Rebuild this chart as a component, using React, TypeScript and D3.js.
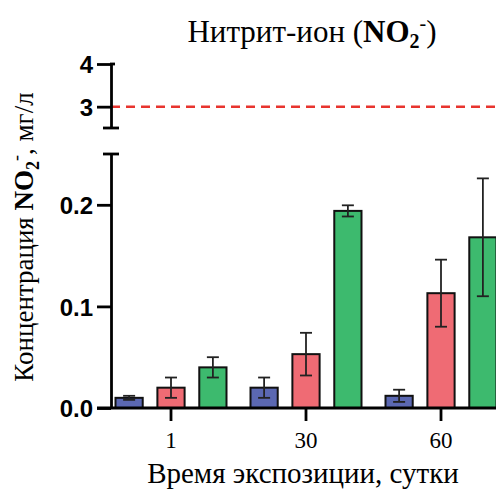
import React, { useEffect, useRef } from 'react'
import * as d3 from 'd3'

// data
const days = ['1', '30', '60']
const series = ['blue', 'red', 'green']
const means = [
  [0.01, 0.02, 0.04],
  [0.02, 0.053, 0.194],
  [0.012, 0.113, 0.168],
]
const errors = [
  [0.002, 0.01, 0.01],
  [0.01, 0.021, 0.0055],
  [0.006, 0.033, 0.058],
]
const lowTicks = [0, 0.1, 0.2]
const highTicks = [3, 4]
const limitValue = 3
const colors = ['#5b68b2', '#ef6b74', '#3dba6e']

const App = () => {
  const svgRef = useRef(null)

  useEffect(() => {
    const width = 496
    const height = 494
    const axisX = 111
    const serif = '"Liberation Serif", "Times New Roman", serif'
    const sans = '"Liberation Sans", Arial, sans-serif'

    const svg = d3.select(svgRef.current).attr('width', width).attr('height', height)
    svg.selectAll('*').remove()

    // two y segments (broken axis)
    const yLow = d3.scaleLinear().domain([0, 0.25]).range([408, 154])
    const yHigh = d3.scaleLinear().domain([2.5, 4]).range([128, 64])

    const x = d3.scaleBand().domain(days).range([103.5, 508.5]).padding(0)
    const inner = d3.scaleBand().domain(series).range([-55.5, 55.5]).paddingInner(0.35).paddingOuter(0)

    // title
    const title = svg
      .append('text')
      .attr('x', 312)
      .attr('y', 42)
      .attr('text-anchor', 'middle')
      .style('font-family', serif)
      .style('font-size', '31px')
    title.append('tspan').text('Нитрит-ион (')
    title.append('tspan').style('font-weight', 'bold').text('NO')
    title.append('tspan').style('font-weight', 'bold').style('font-size', '20px').attr('dy', 6).text('2')
    title.append('tspan').style('font-size', '20px').attr('dy', -18).text('-')
    title.append('tspan').attr('dy', 12).text(')')

    // red dashed limit line
    svg
      .append('line')
      .attr('x1', axisX)
      .attr('x2', width)
      .attr('y1', yHigh(limitValue))
      .attr('y2', yHigh(limitValue))
      .attr('stroke', '#e8342e')
      .attr('stroke-width', 2.5)
      .attr('stroke-dasharray', '9,6')

    // bars
    const groups = svg
      .selectAll('g.day')
      .data(days)
      .enter()
      .append('g')
      .attr('transform', (d) => `translate(${x(d) + x.bandwidth() / 2},0)`)

    groups.each(function (day, i) {
      const g = d3.select(this)
      series.forEach((s, j) => {
        const v = means[i][j]
        const e = errors[i][j]
        const bx = inner(s)
        const bw = inner.bandwidth()
        const cx = bx + bw / 2
        g.append('rect')
          .attr('x', bx)
          .attr('y', yLow(v))
          .attr('width', bw)
          .attr('height', yLow(0) - yLow(v))
          .attr('fill', colors[j])
          .attr('stroke', '#111')
          .attr('stroke-width', 2)
        const eb = g.append('g').attr('stroke', '#222').attr('stroke-width', 1.8)
        eb.append('line').attr('x1', cx).attr('x2', cx).attr('y1', yLow(v + e)).attr('y2', yLow(v - e))
        eb.append('line').attr('x1', cx - 6).attr('x2', cx + 6).attr('y1', yLow(v + e)).attr('y2', yLow(v + e))
        eb.append('line').attr('x1', cx - 6).attr('x2', cx + 6).attr('y1', yLow(v - e)).attr('y2', yLow(v - e))
      })
    })

    const styleYAxis = (g) => {
      g.select('.domain').attr('stroke-width', 2.8)
      g.selectAll('.tick line').attr('stroke-width', 2.8)
      g.selectAll('.tick text')
        .attr('x', -18)
        .attr('dy', '0.36em')
        .style('font-family', sans)
        .style('font-weight', 'bold')
        .style('font-size', '24px')
    }

    // lower y axis
    svg
      .append('g')
      .attr('transform', `translate(${axisX},0)`)
      .call(d3.axisLeft(yLow).tickValues(lowTicks).tickFormat(d3.format('.1f')).tickSize(14).tickSizeOuter(0))
      .call(styleYAxis)
    svg
      .append('line')
      .attr('x1', axisX - 8)
      .attr('x2', axisX + 8)
      .attr('y1', yLow(0.25))
      .attr('y2', yLow(0.25))
      .attr('stroke', '#000')
      .attr('stroke-width', 2.8)

    // upper y axis
    svg
      .append('g')
      .attr('transform', `translate(${axisX},0)`)
      .call(d3.axisLeft(yHigh).tickValues(highTicks).tickFormat(d3.format('d')).tickSize(14).tickSizeOuter(0))
      .call(styleYAxis)
    svg
      .append('line')
      .attr('x1', axisX - 8)
      .attr('x2', axisX + 8)
      .attr('y1', yHigh(2.5))
      .attr('y2', yHigh(2.5))
      .attr('stroke', '#000')
      .attr('stroke-width', 2.8)
    svg
      .append('line')
      .attr('x1', axisX - 1)
      .attr('x2', axisX + 4)
      .attr('y1', yHigh(4))
      .attr('y2', yHigh(4))
      .attr('stroke', '#000')
      .attr('stroke-width', 2.8)

    // x axis
    const xAxis = svg
      .append('g')
      .attr('transform', `translate(0,${yLow(0)})`)
      .call(d3.axisBottom(x).tickSize(13).tickSizeOuter(0))
    xAxis.select('.domain').attr('d', `M${axisX - 14},0H${width}`).attr('stroke-width', 2.8)
    xAxis.selectAll('.tick line').attr('stroke-width', 2.8)
    xAxis
      .selectAll('.tick text')
      .attr('y', 24)
      .style('font-family', serif)
      .style('font-size', '23px')

    // axis titles
    svg
      .append('text')
      .attr('x', 303)
      .attr('y', 483)
      .attr('text-anchor', 'middle')
      .style('font-family', serif)
      .style('font-size', '29px')
      .text('Время экспозиции, сутки')

    const yTitle = svg
      .append('text')
      .attr('transform', 'translate(33,237) rotate(-90)')
      .attr('text-anchor', 'middle')
      .style('font-family', serif)
      .style('font-size', '27px')
    yTitle.append('tspan').text('Концентрация ')
    yTitle.append('tspan').style('font-weight', 'bold').text('NO')
    yTitle.append('tspan').style('font-weight', 'bold').style('font-size', '18px').attr('dy', 6).text('2')
    yTitle.append('tspan').style('font-size', '18px').attr('dy', -17).text('-')
    yTitle.append('tspan').attr('dy', 11).text(', мг/л')
  }, [])

  return <svg ref={svgRef} style={{ position: 'absolute', left: 0, top: 0, background: '#fff' }}></svg>
}

export default App
